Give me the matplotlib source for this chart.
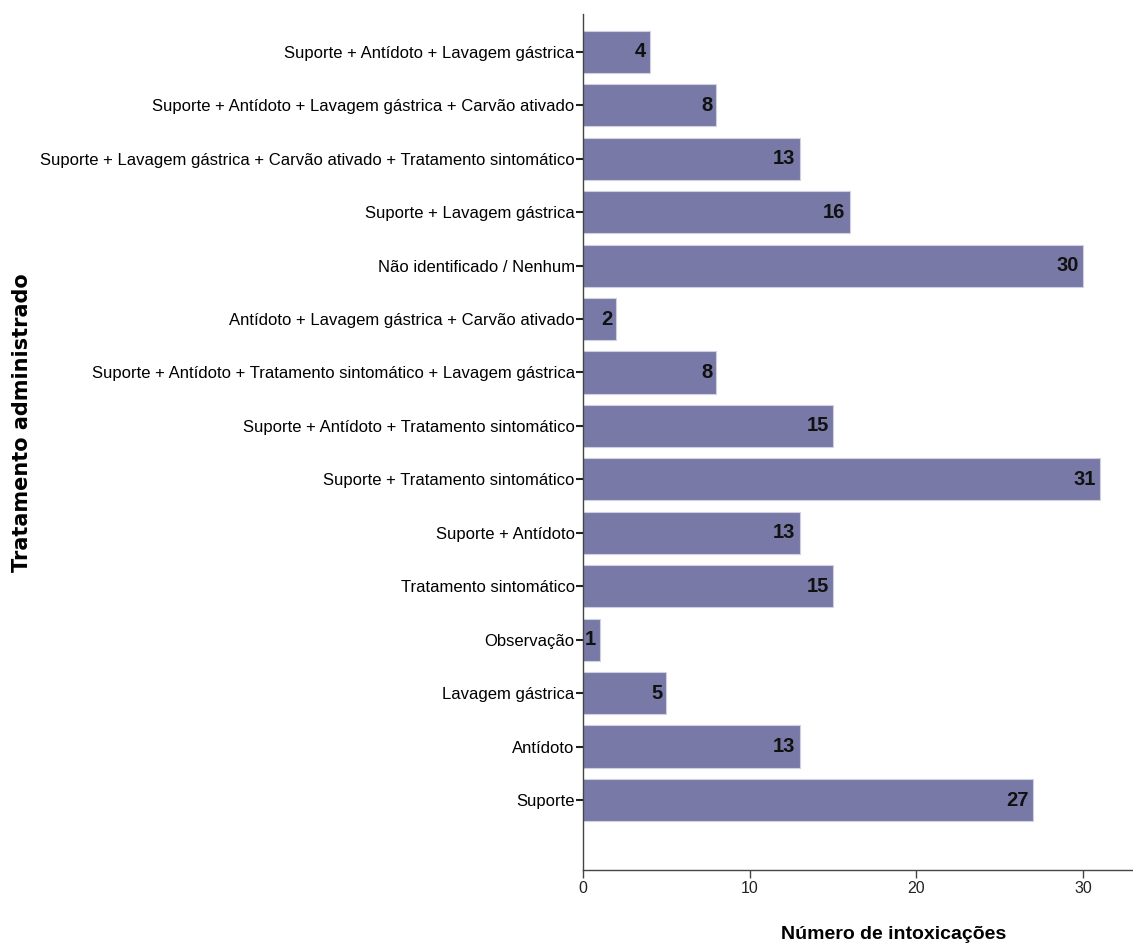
import matplotlib.pyplot as plt

# Treatments, listed bottom to top as they appear on the y axis
tratamentos = [
    "Suporte",
    "Antídoto",
    "Lavagem gástrica",
    "Observação",
    "Tratamento sintomático",
    "Suporte + Antídoto",
    "Suporte + Tratamento sintomático",
    "Suporte + Antídoto + Tratamento sintomático",
    "Suporte + Antídoto + Tratamento sintomático + Lavagem gástrica",
    "Antídoto + Lavagem gástrica + Carvão ativado",
    "Não identificado / Nenhum",
    "Suporte + Lavagem gástrica",
    "Suporte + Lavagem gástrica + Carvão ativado + Tratamento sintomático",
    "Suporte + Antídoto + Lavagem gástrica + Carvão ativado",
    "Suporte + Antídoto + Lavagem gástrica",
]
intoxicacoes = [27, 13, 5, 1, 15, 13, 31, 15, 8, 2, 30, 16, 13, 8, 4]
x_ticks = [0, 10, 20, 30]

plt.rcParams['font.family'] = ['Liberation Sans', 'DejaVu Sans']

fig = plt.figure(figsize=(11.33, 9.46), dpi=100)
ax = fig.add_axes([0.5146, 0.0803, 0.4854, 0.905])

pos = list(range(len(tratamentos)))
ax.barh(pos, intoxicacoes, height=0.79, color='#7979a7',
        edgecolor='#d0d0e2', linewidth=0.8)

# value labels inside the end of each bar
for y, v in zip(pos, intoxicacoes):
    ax.text(v - 0.25, y, str(v), ha='right', va='center', fontsize=14.5,
            fontweight='bold', color='#111111')

ax.set_xlim(0, 33)
ax.set_ylim(-1.31, 14.71)
ax.set_yticks(pos)
ax.set_yticklabels(tratamentos, fontsize=12)
ax.set_xticks(x_ticks)
ax.set_xticklabels([str(t) for t in x_ticks], fontsize=11.5, color='#222222')

for side in ['top', 'right']:
    ax.spines[side].set_visible(False)
for side in ['left', 'bottom']:
    ax.spines[side].set_color('#444444')
    ax.spines[side].set_linewidth(1.0)
ax.tick_params(axis='y', length=5, width=1.5, color='#222222', pad=1)
ax.tick_params(axis='x', length=6, width=1.0, color='#444444', pad=2)

fig.text(0.789, 0.003, "Número de intoxicações", ha='center', va='bottom',
         fontsize=14, fontweight='bold')
fig.text(0.019, 0.553, "Tratamento administrado", ha='center', va='center',
         rotation=90, fontsize=15, fontweight='bold', family='DejaVu Sans')

fig.savefig('out.png', dpi=100)
